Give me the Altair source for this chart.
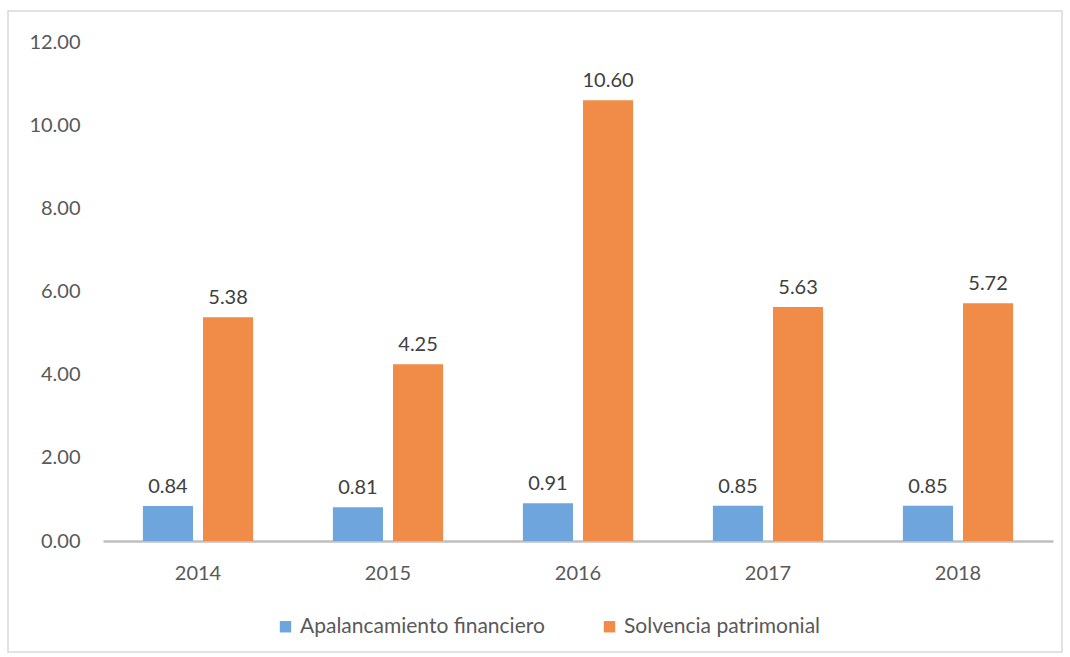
import altair as alt
import pandas as pd

years = ["2014", "2015", "2016", "2017", "2018"]
series = ["Apalancamiento financiero", "Solvencia patrimonial"]
apalancamiento = [0.84, 0.81, 0.91, 0.85, 0.85]
solvencia = [5.38, 4.25, 10.60, 5.63, 5.72]

rows = []
for i, y in enumerate(years):
    rows.append({"year": y, "serie": series[0], "value": apalancamiento[i]})
    rows.append({"year": y, "serie": series[1], "value": solvencia[i]})
df = pd.DataFrame(rows)

FONT = "Lato"
colors = ["#6ea5dc", "#f08c47"]

x_enc = alt.X("year:N", title=None,
              scale=alt.Scale(paddingInner=0.42, paddingOuter=0.21),
              axis=alt.Axis(labelAngle=0, ticks=False, domainColor="#bfbfbf", domainWidth=2.5,
                            labelFontSize=20, labelColor="#595959", labelFont=FONT, labelPadding=22))
xo_enc = alt.XOffset("serie:N", sort=series,
                     scale=alt.Scale(paddingInner=0.1667, paddingOuter=0))

bars = alt.Chart(df).mark_bar().encode(
    x=x_enc,
    xOffset=xo_enc,
    y=alt.Y("value:Q", title=None,
            scale=alt.Scale(domain=[0, 12], nice=False),
            axis=alt.Axis(values=[0, 2, 4, 6, 8, 10, 12], format=".2f", grid=False, domain=False,
                          ticks=False, labelFontSize=20, labelColor="#595959", labelFont=FONT,
                          labelPadding=23)),
    color=alt.Color("serie:N", sort=series,
                    scale=alt.Scale(domain=series, range=colors),
                    legend=alt.Legend(title=None, orient="none", legendX=172, legendY=574,
                                      direction="horizontal", symbolType="square", symbolSize=130,
                                      labelFontSize=21, labelColor="#595959", labelFont=FONT,
                                      labelLimit=0, columnPadding=54, labelOffset=4,
                                      symbolStrokeWidth=0)),
)

labels = alt.Chart(df).mark_text(baseline="alphabetic", dy=-13, fontSize=20, color="#404040",
                                 font=FONT).encode(
    x=alt.X("year:N"),
    xOffset=xo_enc,
    y=alt.Y("value:Q"),
    text=alt.Text("value:Q", format=".2f"),
)

border = alt.Chart(pd.DataFrame({"a": [0]})).mark_rect(fill=None, stroke="#d9d9d9", strokeWidth=1.5).encode(
    x=alt.value(-95), x2=alt.value(959), y=alt.value(-31), y2=alt.value(610)
)

chart = alt.layer(border, bars, labels).properties(
    width=950, height=499,
    autosize=alt.AutoSizeParams(type="none"),
    padding={"left": 103, "top": 42, "right": 17, "bottom": 116},
    background="white",
).configure_view(stroke=None)

chart.save("out.html", embed_options={"renderer": "svg", "actions": False})
